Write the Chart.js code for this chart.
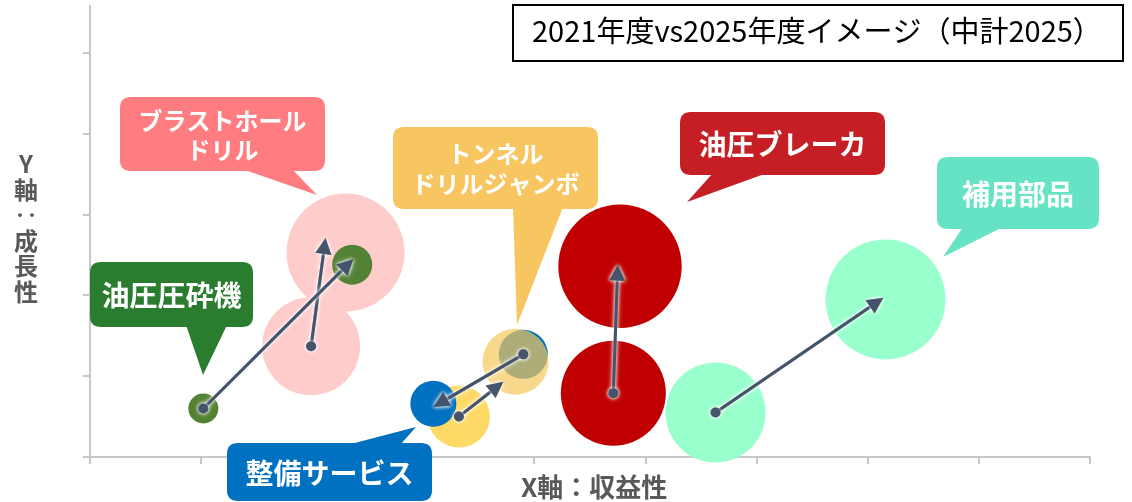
<!DOCTYPE html>
<html><head><meta charset="utf-8">
<script src="https://cdn.jsdelivr.net/npm/chart.js@4.4.1/dist/chart.umd.min.js"></script>
<style>html,body{margin:0;padding:0;background:#fff;}#wrap{width:1132px;height:502px;position:relative;}</style>
</head><body><div id="wrap"><canvas id="c" width="1132" height="502"></canvas></div>
<script>
// ---- data ----
const categories = ['ブラストホールドリル','油圧圧砕機','トンネルドリルジャンボ','整備サービス','油圧ブレーカ','補用部品'];
const x2021 = [1.99, 1.02, 3.32, 3.90, 4.71, 5.63];
const y2021 = [1.37, 0.60, 0.50, 1.27, 0.79, 0.55];
const r2021 = [49, 15, 31, 24.5, 52.5, 50];
const x2025 = [2.30, 2.36, 3.83, 3.09, 4.77, 7.16];
const y2025 = [2.53, 2.38, 1.18, 0.66, 2.36, 1.95];
const r2025 = [59, 20, 33, 23, 61.7, 60];
const arrowEndX = [2.12, 2.37, 3.72, 3.09, 4.75, 7.14];
const arrowEndY = [2.71, 2.45, 0.93, 0.62, 2.38, 1.97];
const xTicks = [0,1,2,3,4,5,6,7,8,9];
const yTicks = [0,1,2,3,4,5];
const calloutLabels = [['ブラストホール','ドリル'],['油圧圧砕機'],['トンネル','ドリルジャンボ'],['整備サービス'],['油圧ブレーカ'],['補用部品']];
const chartTitle = '2021年度vs2025年度イメージ（中計2025）';
const xTitle = 'X軸：収益性';
const yTitleChars = ['Y','軸','‥','成','長','性'];

// ---- styles ----
const col2021 = ['#FFCCCC','#548235','#FFD966','#0070C0','#C00000','#99FFCC'];
const col2025 = ['#FFCCCC','#548235','rgba(245,200,90,0.7)','#0070C0','#C00000','#99FFCC'];
const calloutColors = ['#FF7C80','#2A7C2E','#F8C660','#0070C0','#C51F25','#66E3C4'];
const calloutLayout = [
  {x:120,y:97,w:205,h:74,tip:[317,195],base:[242,292],side:'bottom',fs:24,lh:29},
  {x:90,y:262,w:163,h:65,tip:[203,375],base:[186,227],side:'bottom',fs:28,lh:30},
  {x:393,y:127,w:205,h:82,tip:[517,325],base:[513,563],side:'bottom',fs:24,lh:30},
  {x:227,y:443,w:205,h:58,tip:[416,427],base:[347,400],side:'top',fs:28,lh:30},
  {x:680,y:112,w:205,h:63,tip:[687,202],base:[713,767],side:'bottom',fs:28,lh:30},
  {x:937,y:157,w:162,h:72,tip:[943,257],base:[963,1003],side:'bottom',fs:28,lh:30}
];
const FONT = '"Noto Sans CJK JP","Noto Sans",sans-serif';
const axisGrey = '#C8C8C8';

function rr(ctx,x,y,w,h,r){
  ctx.moveTo(x+r,y);ctx.lineTo(x+w-r,y);ctx.quadraticCurveTo(x+w,y,x+w,y+r);
  ctx.lineTo(x+w,y+h-r);ctx.quadraticCurveTo(x+w,y+h,x+w-r,y+h);
  ctx.lineTo(x+r,y+h);ctx.quadraticCurveTo(x,y+h,x,y+h-r);
  ctx.lineTo(x,y+r);ctx.quadraticCurveTo(x,y,x+r,y);ctx.closePath();
}

const overlay = {
  id:'overlay',
  afterDatasetsDraw(chart){
    const ctx = chart.ctx, xs = chart.scales.x, ys = chart.scales.y;
    ctx.save();
    // callouts
    calloutLayout.forEach((c,i)=>{
      ctx.fillStyle = calloutColors[i];
      ctx.beginPath(); rr(ctx,c.x,c.y,c.w,c.h,11); ctx.fill();
      const ey = c.side==='bottom' ? c.y+c.h-2 : c.y+2;
      ctx.beginPath(); ctx.moveTo(c.base[0],ey); ctx.lineTo(c.tip[0],c.tip[1]); ctx.lineTo(c.base[1],ey); ctx.closePath(); ctx.fill();
      ctx.fillStyle='#fff'; ctx.font = 'bold '+c.fs+'px '+FONT; ctx.textAlign='center'; ctx.textBaseline='middle';
      const lines = calloutLabels[i];
      const cy = c.y + c.h/2 - (lines.length-1)*c.lh/2;
      lines.forEach((t,k)=>ctx.fillText(t, c.x+c.w/2, cy+k*c.lh+1));
    });
    // arrows
    for(let i=0;i<categories.length;i++){
      const sx=xs.getPixelForValue(x2021[i]), sy=ys.getPixelForValue(y2021[i]);
      const ex=xs.getPixelForValue(arrowEndX[i]), ey=ys.getPixelForValue(arrowEndY[i]);
      const a=Math.atan2(ey-sy,ex-sx), L=16, W=8;
      const bx=ex-Math.cos(a)*L, by=ey-Math.sin(a)*L;
      for(let pass=0;pass<2;pass++){
        ctx.shadowColor='rgba(255,255,255,1)'; ctx.shadowBlur=pass===0?5:3;
        ctx.strokeStyle='#44546A'; ctx.fillStyle='#44546A'; ctx.lineWidth=3;
        ctx.beginPath(); ctx.moveTo(sx,sy); ctx.lineTo(bx+Math.cos(a)*2,by+Math.sin(a)*2); ctx.stroke();
        ctx.beginPath(); ctx.moveTo(ex,ey);
        ctx.lineTo(bx-Math.sin(a)*W,by+Math.cos(a)*W);
        ctx.lineTo(bx+Math.sin(a)*W,by-Math.cos(a)*W); ctx.closePath(); ctx.fill();
        ctx.beginPath(); ctx.arc(sx,sy,5,0,Math.PI*2); ctx.fill();
      }
    }
    ctx.shadowBlur=0; ctx.shadowColor='transparent';
    // title box
    ctx.lineWidth=2; ctx.strokeStyle='#000'; ctx.fillStyle='#fff';
    ctx.beginPath(); ctx.rect(513,5,610,56); ctx.fill(); ctx.stroke();
    ctx.fillStyle='#000'; ctx.font='29px '+FONT; ctx.textAlign='left'; ctx.textBaseline='middle';
    ctx.fillText(chartTitle,532,31);
    // axis titles
    ctx.fillStyle='#595959'; ctx.font='bold 26px '+FONT; ctx.textAlign='left';
    ctx.fillText(xTitle,521,487);
    ctx.textAlign='center';
    ctx.font='bold 24px '+FONT;
    yTitleChars.forEach((ch,k)=>ctx.fillText(ch,26,164+k*25.5));
    ctx.restore();
  }
};

const data = {
  datasets:[
    {label:'2025', data: categories.map((c,i)=>({x:x2025[i],y:y2025[i],r:r2025[i]})), backgroundColor:col2025, borderWidth:0, clip:false},
    {label:'2021', data: categories.map((c,i)=>({x:x2021[i],y:y2021[i],r:r2021[i]})), backgroundColor:col2021, borderWidth:0, clip:false}
  ]
};

new Chart(document.getElementById('c'),{
  type:'bubble',
  data,
  plugins:[overlay],
  options:{
    responsive:false, animation:false, events:[],
    layout:{autoPadding:false,padding:{left:83,right:42,top:6,bottom:38}},
    plugins:{legend:{display:false},tooltip:{enabled:false}},
    scales:{
      x:{type:'linear',min:0,max:9,
        afterBuildTicks:s=>{s.ticks=xTicks.map(v=>({value:v}));},
        ticks:{display:false},
        grid:{drawOnChartArea:false,drawTicks:true,tickLength:7,color:axisGrey,lineWidth:2},
        border:{color:axisGrey,width:2}},
      y:{type:'linear',min:0,max:5.58,
        afterBuildTicks:s=>{s.ticks=yTicks.map(v=>({value:v}));},
        ticks:{display:false},
        grid:{drawOnChartArea:false,drawTicks:true,tickLength:7,color:axisGrey,lineWidth:2},
        border:{color:axisGrey,width:2}}
    }
  }
});
</script></body></html>
